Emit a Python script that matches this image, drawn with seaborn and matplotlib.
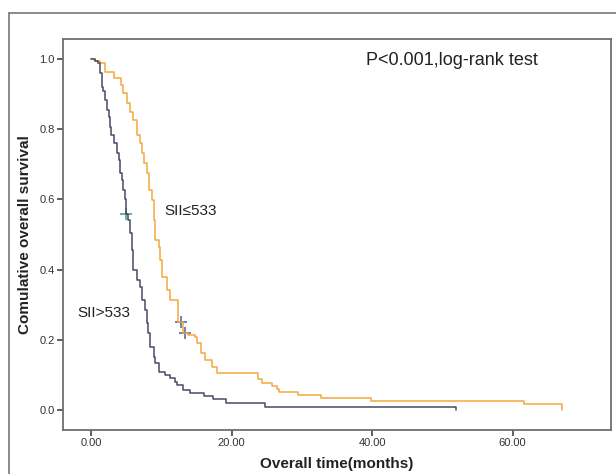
import numpy as np
import pandas as pd
import matplotlib
matplotlib.use("Agg")
import matplotlib.pyplot as plt
import seaborn as sns
from matplotlib.lines import Line2D
from matplotlib.ticker import FormatStrFormatter

# Kaplan-Meier steps (time in months, survival after the drop)
low_time = [0, 0.6, 1.3, 2.0, 3.2, 4.2, 4.6, 5.1, 5.5, 6.0, 6.6, 7.0, 7.2, 7.5, 7.9, 8.3, 8.6,
            9.0, 9.1, 9.6, 9.8, 10.05, 10.8, 11.2, 12.3, 13.1, 13.8, 14.8, 15.0, 15.7, 16.2,
            17.2, 17.9, 23.7, 24.3, 25.7, 26.4, 26.8, 29.5, 32.7, 39.8, 61.6, 67.0]
low_surv = [1.0, 0.994, 0.988, 0.962, 0.945, 0.926, 0.902, 0.874, 0.85, 0.826, 0.783, 0.76,
            0.731, 0.703, 0.674, 0.627, 0.598, 0.541, 0.484, 0.465, 0.427, 0.38, 0.342, 0.313,
            0.252, 0.219, 0.214, 0.208, 0.19, 0.161, 0.142, 0.123, 0.105, 0.087, 0.078, 0.068,
            0.059, 0.051, 0.043, 0.034, 0.026, 0.017, 0.0]
high_time = [0, 0.5, 1.0, 1.3, 1.5, 1.75, 2.0, 2.2, 2.5, 2.7, 2.9, 3.2, 3.65, 3.9, 4.1, 4.4,
             4.6, 4.8, 4.95, 5.3, 5.55, 5.8, 6.0, 6.5, 7.0, 7.2, 7.7, 7.9, 8.15, 8.4, 8.9, 9.1,
             9.6, 10.5, 11.2, 11.9, 12.2, 13.1, 14.1, 16.0, 17.4, 19.2, 24.7, 52.0]
high_surv = [1.0, 0.994, 0.988, 0.96, 0.921, 0.91, 0.883, 0.855, 0.836, 0.807, 0.783, 0.76,
             0.731, 0.712, 0.674, 0.655, 0.627, 0.6, 0.557, 0.541, 0.504, 0.456, 0.399, 0.37,
             0.351, 0.313, 0.285, 0.247, 0.218, 0.18, 0.152, 0.133, 0.109, 0.1, 0.09, 0.081,
             0.07, 0.057, 0.048, 0.04, 0.03, 0.02, 0.009, 0.0]

# censored observations
low_cens_time = [12.8, 13.3]
low_cens_surv = [0.252, 0.219]
high_cens_time = [5.0]
high_cens_surv = [0.557]

group_names = ["SII≤533", "SII>533"]
y_ticks = [0.0, 0.2, 0.4, 0.6, 0.8, 1.0]
x_ticks = [0, 20, 40, 60]

df = pd.concat([
    pd.DataFrame({"time": low_time, "surv": low_surv, "group": group_names[0]}),
    pd.DataFrame({"time": high_time, "surv": high_surv, "group": group_names[1]}),
])

sns.set_theme(style="white")
plt.rcParams["font.family"] = ["Liberation Sans", "DejaVu Sans"]

fig = plt.figure(figsize=(6.16, 4.74), dpi=100)
ax = fig.add_axes([0.1023, 0.0928, 0.8896, 0.825])

palette = {group_names[0]: "#f5a83c", group_names[1]: "#4a4866"}
sns.lineplot(data=df, x="time", y="surv", hue="group", palette=palette, estimator=None,
             drawstyle="steps-post", linewidth=1.1, legend=False, ax=ax)
sns.scatterplot(x=low_cens_time, y=low_cens_surv, marker="+", s=70, color="#4a5f9e",
                linewidth=1.1, ax=ax)
sns.scatterplot(x=high_cens_time, y=high_cens_surv, marker="+", s=70, color="#3aa07a",
                linewidth=1.1, ax=ax)

ax.set_xlim(-4, 74)
ax.set_ylim(-0.057, 1.057)
ax.set_xticks(x_ticks)
ax.set_yticks(y_ticks)
ax.xaxis.set_major_formatter(FormatStrFormatter("%.2f"))
ax.yaxis.set_major_formatter(FormatStrFormatter("%.1f"))
ax.tick_params(axis="both", direction="out", length=4, width=1.2, color="#444444",
               labelsize=8, labelcolor="#333333", pad=2, bottom=True, left=True)
for sp in ax.spines.values():
    sp.set_color("#6e6e6e")
    sp.set_linewidth(1.3)

ax.set_xlabel("Overall time(months)", fontsize=11, fontweight="bold", color="#222222", labelpad=6)
ax.set_ylabel("Comulative overall survival", fontsize=11, fontweight="bold", color="#222222", labelpad=5)

ax.text(0.71, 0.945, "P<0.001,log-rank test", transform=ax.transAxes, fontsize=13,
        ha="center", va="center", color="#222222")
ax.text(14.2, 0.567, group_names[0], fontsize=11, ha="center", va="center", color="#222222")
ax.text(1.8, 0.277, group_names[1], fontsize=11, ha="center", va="center", color="#222222")

# outer frame of the figure panel
fig.add_artist(Line2D([9 / 616, 9 / 616], [0, 1 - 13 / 474], transform=fig.transFigure,
                      color="#777777", linewidth=1.2))
fig.add_artist(Line2D([9 / 616, 1], [1 - 13 / 474, 1 - 13 / 474], transform=fig.transFigure,
                      color="#777777", linewidth=1.2))

fig.savefig("out.png", dpi=100)
